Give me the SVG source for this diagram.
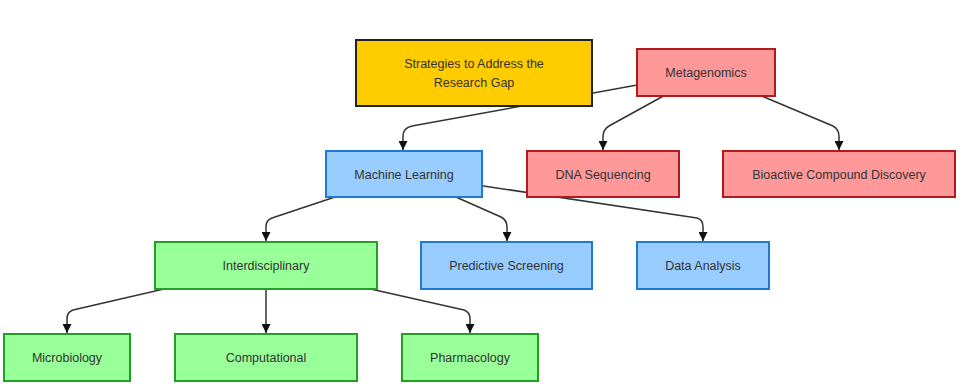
<svg xmlns="http://www.w3.org/2000/svg" width="977" height="391" viewBox="0 0 977 391">
<style>
  .lbl{font-family:"Liberation Sans",Arial,sans-serif;font-size:12.5px;fill:#333;text-anchor:middle}
  .edge{fill:none;stroke:#333;stroke-width:1.5}
  .y{fill:#ffcc00;stroke:#222;stroke-width:2}
  .r{fill:#ff9999;stroke:#b01c1c;stroke-width:2}
  .b{fill:#99ccff;stroke:#1e78d6;stroke-width:2}
  .g{fill:#99ff99;stroke:#22a022;stroke-width:2}
</style>
<defs>
  <marker id="arr" viewBox="0 0 10 10" refX="10" refY="5" markerWidth="9" markerHeight="9" markerUnits="userSpaceOnUse" orient="auto">
    <path d="M0,0 L10,5 L0,10 z" fill="#111"/>
  </marker>
</defs>
<rect width="977" height="391" fill="#ffffff"/>
<g id="edges">
  <path class="edge" marker-end="url(#arr)" d="M706,72.5 L412,126 Q403,128 403,136 L403,150"/>
  <path class="edge" marker-end="url(#arr)" d="M706,72.5 L609,126 Q603,129.5 603,137 L603,150"/>
  <path class="edge" marker-end="url(#arr)" d="M706,72.5 L833,126 Q839,129 839,137 L839,150"/>
  <path class="edge" marker-end="url(#arr)" d="M404,174 L272,218 Q266,220 266,227 L266,241"/>
  <path class="edge" marker-end="url(#arr)" d="M404,174 L501,217 Q507,220 507,227 L507,241"/>
  <path class="edge" marker-end="url(#arr)" d="M404,174 L697,218 Q703,219.5 703,227 L703,241"/>
  <path class="edge" marker-end="url(#arr)" d="M266,265.5 L73,310 Q67,312 67,319 L67,333"/>
  <path class="edge" marker-end="url(#arr)" d="M266,289 L266,333"/>
  <path class="edge" marker-end="url(#arr)" d="M266,265.5 L464,310 Q470,312 470,319 L470,333"/>
</g>
<g id="strategies">
  <rect class="y" x="356" y="40" width="236" height="66"/>
  <text class="lbl" x="474" y="67.5">Strategies to Address the</text>
  <text class="lbl" x="474" y="86.5">Research Gap</text>
</g>
<g id="metagenomics">
  <rect class="r" x="637" y="49" width="138" height="47"/>
  <text class="lbl" x="706" y="77">Metagenomics</text>
</g>
<g id="machine-learning">
  <rect class="b" x="326" y="151" width="156" height="46"/>
  <text class="lbl" x="404" y="178.5">Machine Learning</text>
</g>
<g id="dna-sequencing">
  <rect class="r" x="527" y="151" width="152" height="46"/>
  <text class="lbl" x="603" y="178.5">DNA Sequencing</text>
</g>
<g id="bioactive">
  <rect class="r" x="723" y="151" width="232" height="46"/>
  <text class="lbl" x="839" y="178.5">Bioactive Compound Discovery</text>
</g>
<g id="interdisciplinary">
  <rect class="g" x="155" y="242" width="222" height="47"/>
  <text class="lbl" x="266" y="270">Interdisciplinary</text>
</g>
<g id="predictive-screening">
  <rect class="b" x="421" y="242" width="171" height="47"/>
  <text class="lbl" x="506.5" y="270">Predictive Screening</text>
</g>
<g id="data-analysis">
  <rect class="b" x="637" y="242" width="132" height="47"/>
  <text class="lbl" x="703" y="270">Data Analysis</text>
</g>
<g id="microbiology">
  <rect class="g" x="4" y="334" width="126" height="47"/>
  <text class="lbl" x="67" y="362">Microbiology</text>
</g>
<g id="computational">
  <rect class="g" x="175" y="334" width="182" height="47"/>
  <text class="lbl" x="266" y="362">Computational</text>
</g>
<g id="pharmacology">
  <rect class="g" x="402" y="334" width="136" height="47"/>
  <text class="lbl" x="470" y="362">Pharmacology</text>
</g>
</svg>
